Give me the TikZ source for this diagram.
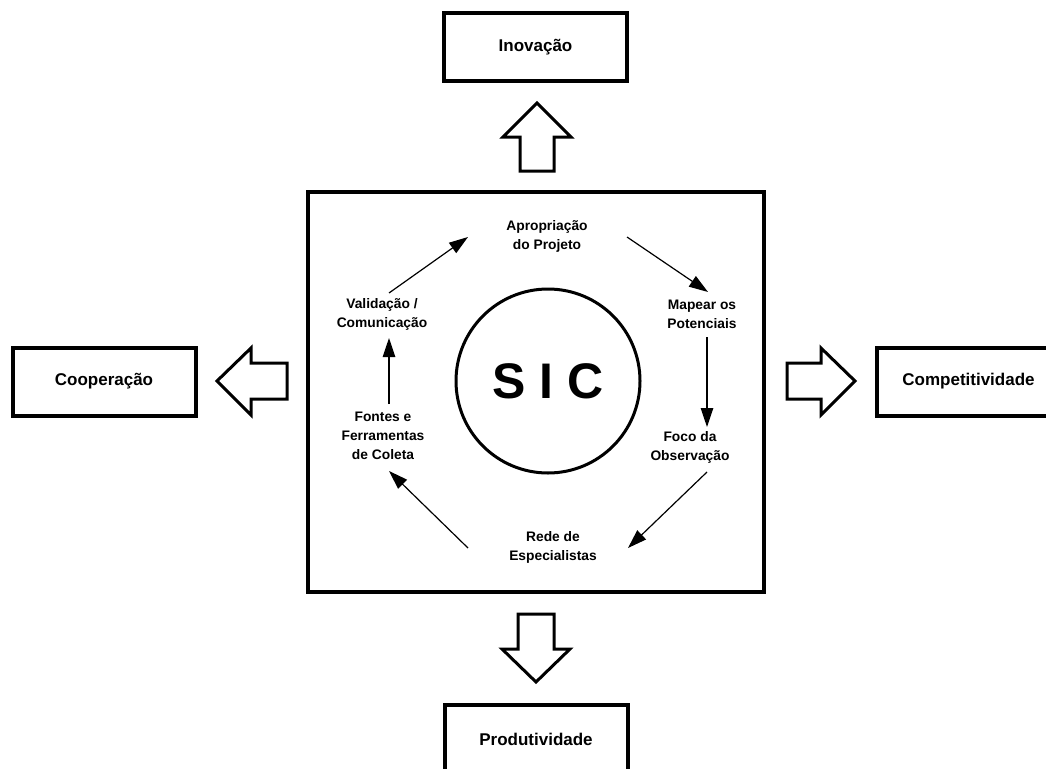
\documentclass[tikz,border=0pt]{standalone}
\usepackage{fontspec}
\setmainfont{Liberation Sans}
\usetikzlibrary{arrows.meta}
\begin{document}
\begin{tikzpicture}[x=1pt,y=-1pt,
  outbox/.style={draw, line width=4pt, rectangle, inner sep=0pt,
    minimum width=183pt, minimum height=68pt,
    font=\fontsize{17}{20}\selectfont\bfseries},
  frame/.style={draw, line width=4pt, rectangle, inner sep=0pt,
    minimum width=456pt, minimum height=400pt},
  core/.style={draw, line width=3pt, circle, inner sep=0pt, minimum size=184pt,
    font=\fontsize{50}{56}\selectfont\bfseries},
  stage/.style={inner sep=0pt, align=center,
    font=\fontsize{13.8}{19}\selectfont\bfseries},
  flow/.style={line width=1.2pt, -{Triangle[length=19pt,width=12.5pt]}},
  blockarrow/.style={draw, line width=3pt, line join=miter, fill=white}]

\useasboundingbox (0,0) rectangle (1046,768);
\clip (0,0) rectangle (1046,768);

% outer results
\node[outbox] (inov) at (535.5,47) {Inovação};
\node[outbox] (coop) at (104,381.5) {Cooperação};
\node[outbox] (comp) at (968.5,381.5) {Competitividade};
\node[outbox] (prod) at (536,739) {Produtividade};

% central system
\node[frame] (sys) at (536,392) {};
\node[core] (sic) at (548,381) {S I C};

% cycle stages
\node[stage] (apro) at (547,236) {Apropriação\\do Projeto};
\node[stage] (mapa) at (702,314) {Mapear os\\Potenciais};
\node[stage] (foco) at (690,447) {Foco da\\Observação};
\node[stage] (rede) at (553,547) {Rede de\\Especialistas};
\node[stage] (font) at (383,436) {Fontes e\\Ferramentas\\de Coleta};
\node[stage] (vali) at (382,314) {Validação /\\Comunicação};

% cycle arrows
\draw[flow] ([shift={(80,1)}]apro.center) -- ([shift={(6,-22)}]mapa.center);
\draw[flow] ([shift={(5,23)}]mapa.center) -- ([shift={(17,-20)}]foco.center);
\draw[flow] ([shift={(17,25)}]foco.center) -- ([shift={(75,1)}]rede.center);
\draw[flow] ([shift={(-85,1)}]rede.center) -- ([shift={(6,35)}]font.center);
\draw[flow] ([shift={(6,-32)}]font.center) -- ([shift={(7,24)}]vali.center);
\draw[flow] ([shift={(7,-21)}]vali.center) -- ([shift={(-79,1)}]apro.center);

% block arrows out of the system
% up
\draw[blockarrow] (537,103) -- (571,137) -- (554,137) -- (554,171) -- (520,171)
  -- (520,137) -- (503,137) -- cycle;
% down
\draw[blockarrow] (536,682) -- (570,649) -- (554,649) -- (554,614) -- (518,614)
  -- (518,649) -- (502,649) -- cycle;
% left
\draw[blockarrow] (217,381) -- (251,348) -- (251,363) -- (287,363) -- (287,399)
  -- (251,399) -- (251,415) -- cycle;
% right
\draw[blockarrow] (855,381) -- (821,348) -- (821,363) -- (787,363) -- (787,399)
  -- (821,399) -- (821,415) -- cycle;

\end{tikzpicture}
\end{document}
